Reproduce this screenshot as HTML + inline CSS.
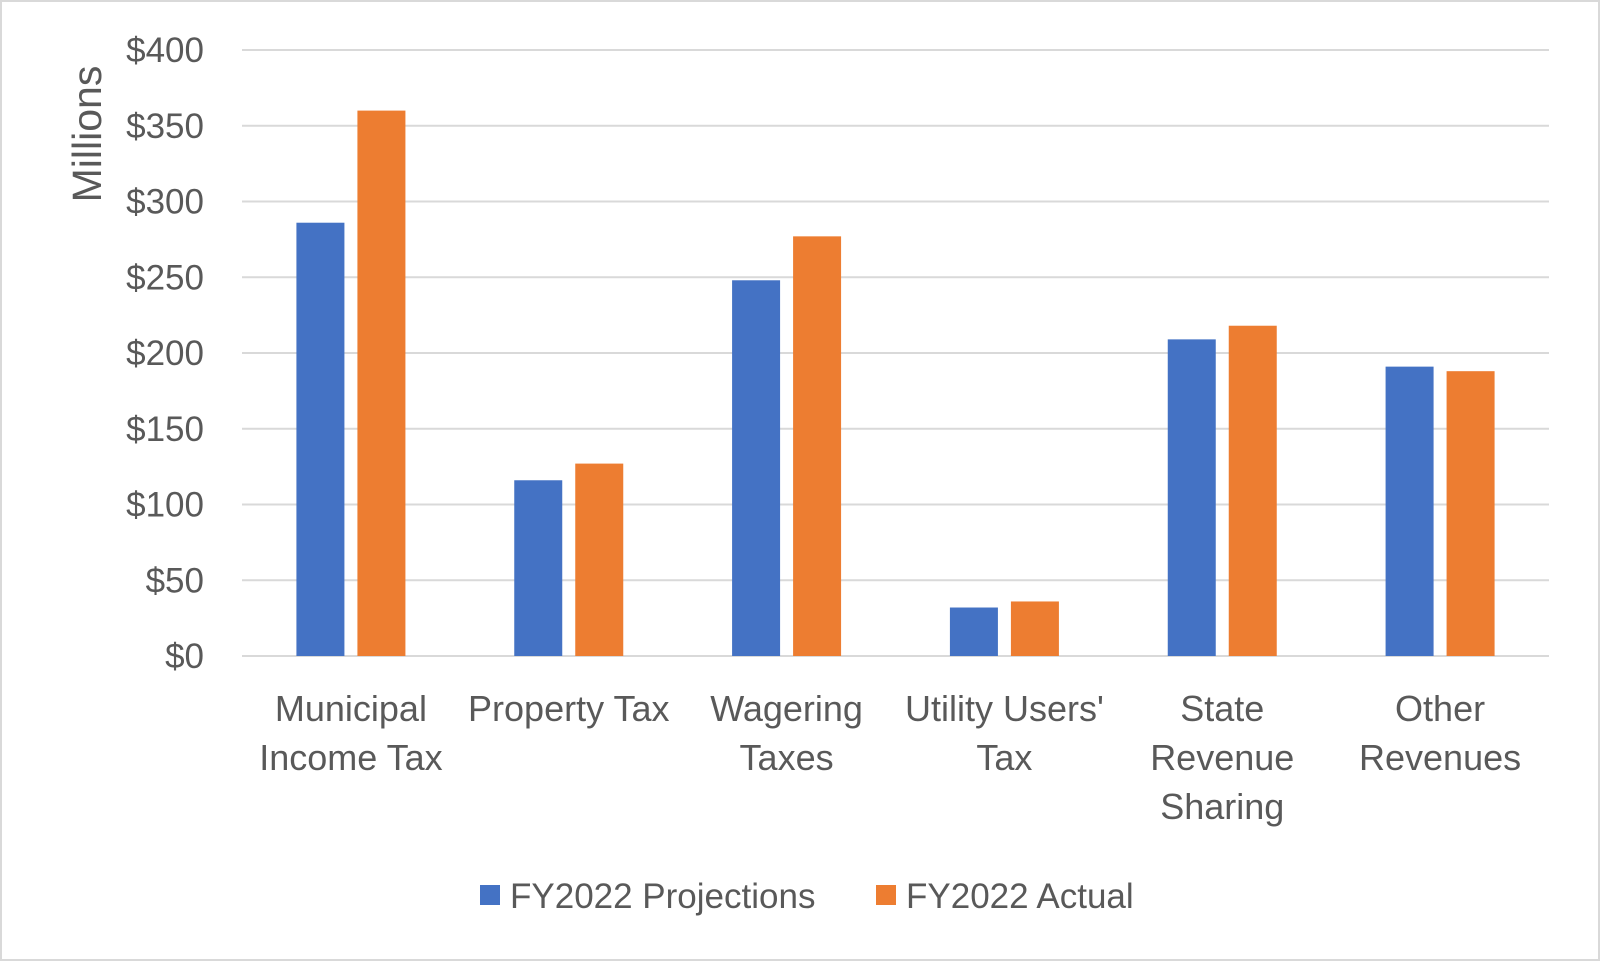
<!DOCTYPE html>
<html><head><meta charset="utf-8"><style>
html,body{margin:0;padding:0;background:#fff}
svg{display:block;font-family:"Liberation Sans","DejaVu Sans",sans-serif}
</style></head><body>
<svg id="chart" width="1600" height="961" viewBox="0 0 1600 961">
<rect x="1" y="1" width="1598" height="959" fill="#fff" stroke="#d9d9d9" stroke-width="2"/>
<g id="grid"></g><g id="bars"></g><g id="labels"></g>
<text transform="translate(101,134) rotate(-90)" text-anchor="middle" font-size="41" fill="#595959">Millions</text>
<g>
<rect x="480" y="885" width="20" height="20" fill="#4472C4"/>
<text x="510" y="908" font-size="35" fill="#595959">FY2022 Projections</text>
<rect x="876" y="885" width="20" height="20" fill="#ED7D31"/>
<text x="906" y="908" font-size="35" fill="#595959">FY2022 Actual</text>
</g>
</svg>
<script>
const categories=[["Municipal","Income Tax"],["Property Tax"],["Wagering","Taxes"],["Utility Users'","Tax"],["State","Revenue","Sharing"],["Other","Revenues"]];
const projections=[286,116,248,32,209,191];
const actuals=[360,127,277,36,218,188];
const ticks=[0,50,100,150,200,250,300,350,400];
const tickLabels=["$0","$50","$100","$150","$200","$250","$300","$350","$400"];
const NS="http://www.w3.org/2000/svg";
const x0=242,x1=1549,yb=656,yt=50,maxV=400;
const y=v=>yb-(v/maxV)*(yb-yt);
const cw=(x1-x0)/categories.length;
const cx=i=>x0+cw*(i+0.5);
function mk(tag,attrs,parent){const e=document.createElementNS(NS,tag);for(const k in attrs)e.setAttribute(k,attrs[k]);document.getElementById(parent).appendChild(e);return e;}
ticks.forEach((t,i)=>{
 const l=mk('line',{x1:x0,x2:x1,y1:y(t),y2:y(t),stroke:'#d9d9d9','stroke-width':2},'grid');
 
 
 const tx=mk('text',{x:204,y:y(t)+12,'text-anchor':'end','font-size':35,fill:'#595959'},'labels');
 tx.textContent=tickLabels[i];
 
 
});
const bw=48,gap=13;
categories.forEach((c,i)=>{
 const b1=mk('rect',{x:cx(i)-gap/2-bw,y:y(projections[i]),width:bw,height:yb-y(projections[i]),fill:'#4472C4'},'bars');
 
 
 const b2=mk('rect',{x:cx(i)+gap/2,y:y(actuals[i]),width:bw,height:yb-y(actuals[i]),fill:'#ED7D31'},'bars');
 
 
 c.forEach((line,j)=>{
  const t=mk('text',{x:cx(i),y:721+j*49,'text-anchor':'middle','font-size':36,fill:'#595959'},'labels');
  t.textContent=line;
  
  
 });
});
</script>
</body></html>
